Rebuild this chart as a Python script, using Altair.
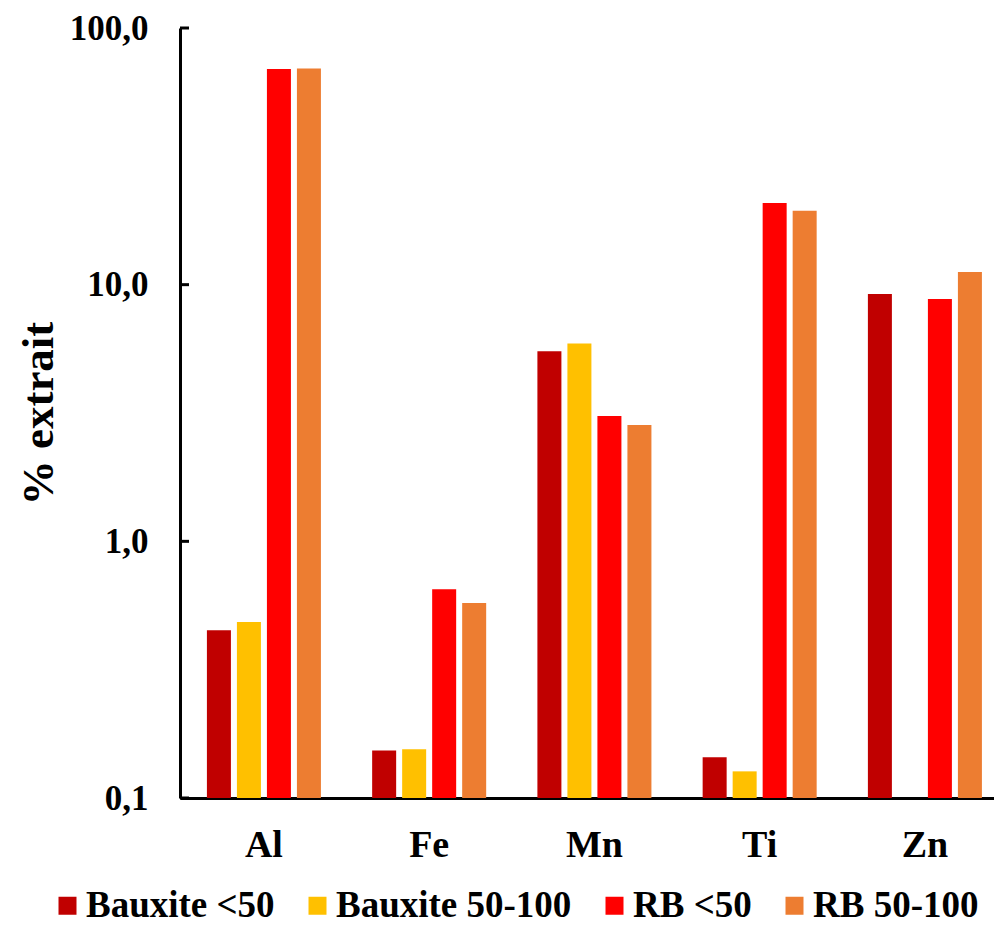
import altair as alt
import pandas as pd

elements = ["Al", "Fe", "Mn", "Ti", "Zn"]
series = ["Bauxite <50", "Bauxite 50-100", "RB <50", "RB 50-100"]
colors = ["#C00000", "#FFC000", "#FF0000", "#ED7D31"]

bauxite_lt50 = [0.45, 0.153, 5.5, 0.144, 9.2]
bauxite_50_100 = [0.485, 0.155, 5.9, 0.127, None]
rb_lt50 = [69.3, 0.65, 3.08, 20.8, 8.8]
rb_50_100 = [69.5, 0.575, 2.84, 19.4, 11.2]

y_ticks = [0.1, 1, 10, 100]
y_min = 0.1

rows = []
for s, vals in zip(series, [bauxite_lt50, bauxite_50_100, rb_lt50, rb_50_100]):
    for e, v in zip(elements, vals):
        if v is not None:
            rows.append({"element": e, "series": s, "value": float(v), "base": y_min})
df = pd.DataFrame(rows)
ticks_df = pd.DataFrame({"value": y_ticks})

FONT = "Liberation Serif"

yscale = alt.Scale(type="log", domain=[0.1, 100], nice=False)

bars = alt.Chart(df).mark_bar().encode(
    x=alt.X("element:N", sort=elements,
            scale=alt.Scale(paddingInner=0.31, paddingOuter=0.118, align=0.69),
            axis=alt.Axis(title=None, ticks=False, labelAngle=0,
                          labelFontSize=38, labelPadding=28,
                          domainWidth=3, domainColor="black")),
    xOffset=alt.XOffset("series:N", sort=series,
                        scale=alt.Scale(paddingInner=0.2, paddingOuter=0)),
    y=alt.Y("value:Q", scale=yscale,
            axis=alt.Axis(title="% extrait", values=y_ticks, ticks=False,
                          labelExpr="replace(format(datum.value, '.1f'), '.', ',')",
                          labelFontSize=35, labelPadding=32, titleFontSize=45,
                          titlePadding=8, domainWidth=3, domainColor="black",
                          grid=False)),
    y2=alt.Y2("base:Q"),
    color=alt.Color("series:N", sort=series,
                    scale=alt.Scale(domain=series, range=colors),
                    legend=alt.Legend(title=None, orient="none", direction="horizontal",
                                      legendX=-131, legendY=859,
                                      symbolType="square", symbolSize=324,
                                      symbolStrokeWidth=0,
                                      labelFontSize=37, labelFont=FONT,
                                      labelFontWeight="bold", labelColor="black",
                                      columnPadding=24, labelOffset=0,
                                      labelLimit=400)),
)

tick_marks = alt.Chart(ticks_df).mark_rule(color="black", strokeWidth=3).encode(
    y=alt.Y("value:Q", scale=yscale),
    x=alt.value(0),
    x2=alt.value(9),
)

chart = alt.layer(bars, tick_marks).properties(
    width=814, height=770,
    autosize=alt.AutoSizeParams(type="none"),
    padding={"left": 172, "top": 20, "right": 0, "bottom": 127},
).configure_view(stroke=None).configure_axis(
    labelFont=FONT, labelFontWeight="bold", labelColor="black",
    titleFont=FONT, titleFontWeight="bold", titleColor="black",
)

chart.save("out.html", embed_options={"renderer": "svg", "actions": False})
